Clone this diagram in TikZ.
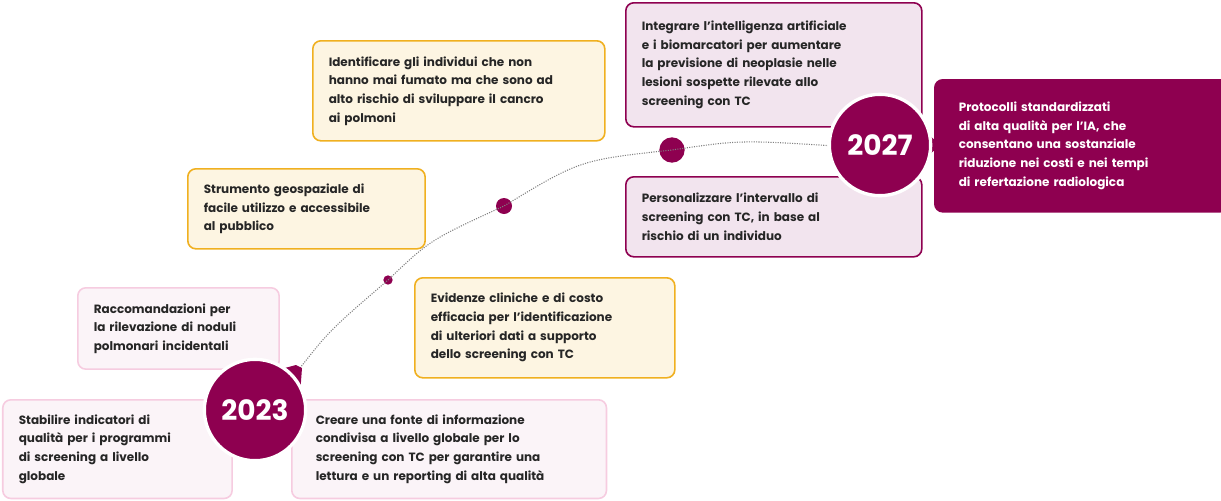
\documentclass[tikz,border=0pt]{standalone}
\usepackage{fontspec}
\setmainfont{Poppins}
\definecolor{plum}{HTML}{8E0050}
\definecolor{gold}{HTML}{F0B020}
\definecolor{cream}{HTML}{FDF5E2}
\definecolor{lilac}{HTML}{F2E4EE}
\definecolor{blush}{HTML}{F6CCE0}
\definecolor{shell}{HTML}{FBF4F8}
\tikzset{
  card/.style={draw,rounded corners=6pt,line width=1.2pt,anchor=north west,align=left,
    inner xsep=12pt,font=\fontsize{9}{14}\selectfont\bfseries,text=black!85},
  goal/.style={card,draw=gold,fill=cream},
  aim/.style={card,draw=plum,fill=lilac},
  hope/.style={card,draw=blush,fill=shell},
  dot/.style={circle,fill=plum,inner sep=0pt},
  year/.style={circle,fill=plum,draw=white,line width=2.5pt,text=white,
    font=\fontsize{21}{21}\selectfont\bfseries,minimum size=76pt,inner sep=0pt}
}
\begin{document}
\begin{tikzpicture}[x=0.75pt,y=-0.75pt]
  \useasboundingbox (0,0) rectangle (1221,500);
  % orange cards
  \node[goal,text width=195pt,minimum height=75pt] (ident) at (312,40)
    {Identificare gli individui che non\\hanno mai fumato ma che sono ad\\alto rischio di sviluppare il cancro\\ai polmoni};
  \node[goal,text width=154pt,minimum height=60pt] (geo) at (187,168)
    {Strumento geospaziale di\\facile utilizzo e accessibile\\al pubblico};
  \node[goal,text width=171pt,minimum height=75pt] (evid) at (414,277)
    {Evidenze cliniche e di costo\\efficacia per l’identificazione\\di ulteriori dati a supporto\\dello screening con TC};
  % plum cards
  \node[aim,text width=198pt,minimum height=93pt] (integ) at (625,2)
    {Integrare l’intelligenza artificiale\\e i biomarcatori per aumentare\\la previsione di neoplasie nelle\\lesioni sospette rilevate allo\\screening con TC};
  \node[aim,text width=198pt,minimum height=60pt] (pers) at (625,176)
    {Personalizzare l’intervallo di\\screening con TC, in base al\\rischio di un individuo};
  \node[card,draw=plum,fill=plum,text=white,text width=196pt,minimum height=99pt] (proto) at (934,79)
    {\hspace*{6pt}Protocolli standardizzati\\\hspace*{6pt}di alta qualità per l’IA, che\\\hspace*{6pt}consentano una sostanziale\\\hspace*{6pt}riduzione nei costi e nei tempi\\\hspace*{6pt}di refertazione radiologica};
  % pink cards
  \node[hope,text width=127pt,minimum height=61pt] (racc) at (77,287)
    {Raccomandazioni per\\la rilevazione di noduli\\polmonari incidentali};
  \node[hope,text width=148pt,minimum height=74pt] (stab) at (2,399)
    {Stabilire indicatori di\\qualità per i programmi\\di screening a livello\\globale};
  \node[hope,text width=212pt,minimum height=74pt] (crea) at (291,399)
    {\hspace*{6pt}Creare una fonte di informazione\\\hspace*{6pt}condivisa a livello globale per lo\\\hspace*{6pt}screening con TC per garantire una\\\hspace*{6pt}lettura e un reporting di alta qualità};
  % timeline
  \node[dot,minimum size=7pt] (d1) at (388,280) {};
  \node[dot,minimum size=12pt] (d2) at (504,206) {};
  \node[dot,minimum size=19pt] (d3) at (672,150) {};
  \coordinate (tip) at (300,368);
  \coordinate (end) at (835,146);
  \draw[gray,densely dotted,line width=0.8pt] (tip) .. controls (330,330) .. (d1.center)
    .. controls (430,240) .. (d2.center) .. controls (580,160) .. (d3.center)
    .. controls (740,140) .. (end);
  % years
  \fill[plum] (296,365) -- (302,368) -- (300,395) -- (270,372) -- cycle;
  \node[year] (y23) at (255,410) {2023};
  \fill[plum] (920,128) -- (941,145) -- (920,162) -- cycle;
  \node[year] (y27) at (880,145) {2027};
\end{tikzpicture}
\end{document}
